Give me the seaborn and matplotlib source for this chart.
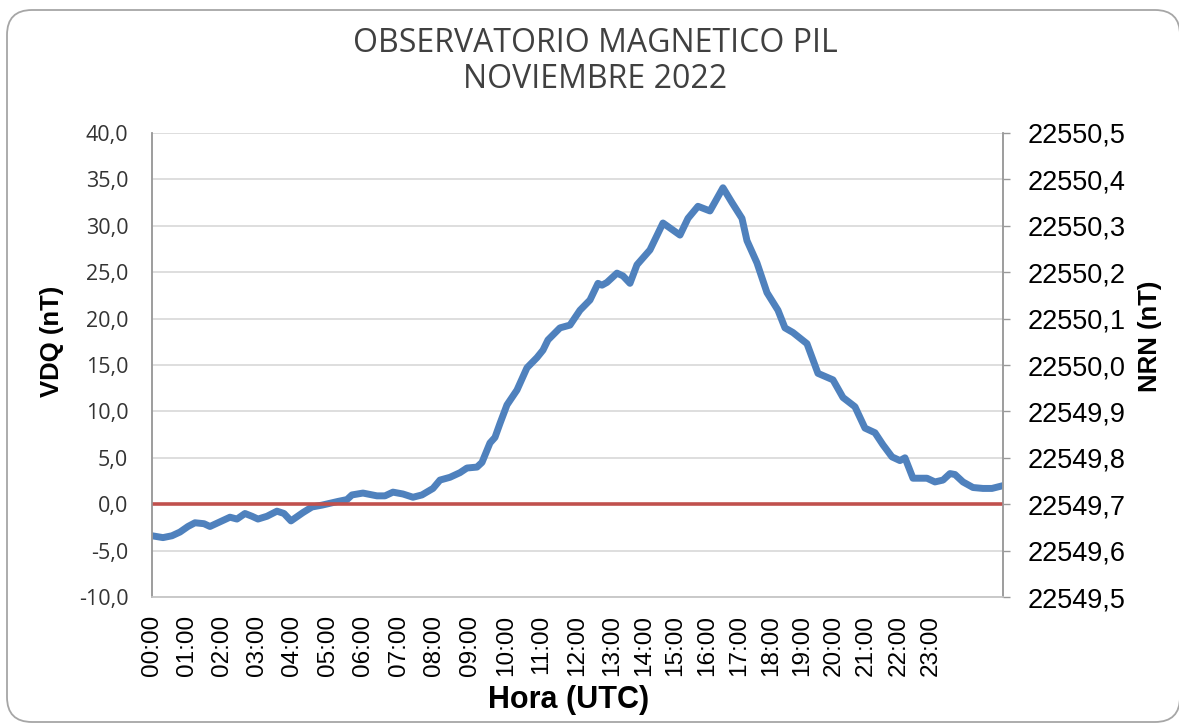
import seaborn as sns
import matplotlib.pyplot as plt
from matplotlib.patches import FancyBboxPatch
from matplotlib.ticker import FuncFormatter

# sample number along the category axis and VDQ values
muestra = [0, 11, 20, 28, 36, 43, 52, 58, 68, 78, 85, 93, 100, 106, 115, 125,
           132, 139, 151, 160, 170, 178, 186, 195, 200, 211, 225, 233, 241, 251,
           261, 270, 281, 288, 298, 308, 315, 325, 330, 338, 343, 348, 355, 365,
           375, 385, 391, 396, 408, 418, 428, 438, 446, 450, 455, 465, 471, 478,
           485, 498, 511, 528, 536, 546, 558, 571, 580, 590, 595, 605, 615, 626,
           633, 641, 655, 666, 681, 691, 703, 713, 723, 731, 740, 748, 753, 761,
           775, 783, 791, 798, 803, 811, 821, 831, 840, 851]
vdq = [-3.4, -3.6, -3.4, -3.0, -2.4, -2.0, -2.1, -2.4, -1.9, -1.4, -1.6, -1.0,
       -1.3, -1.6, -1.3, -0.75, -1.0, -1.8, -0.9, -0.3, -0.1, 0.1, 0.3, 0.5,
       1.0, 1.2, 0.9, 0.9, 1.3, 1.1, 0.75, 1.0, 1.7, 2.6, 2.9, 3.4, 3.9, 4.0,
       4.5, 6.6, 7.2, 8.7, 10.7, 12.3, 14.7, 15.8, 16.6, 17.7, 19.0, 19.3, 20.9,
       22.0, 23.8, 23.6, 23.9, 24.9, 24.6, 23.8, 25.8, 27.4, 30.3, 29.0, 30.8,
       32.1, 31.6, 34.1, 32.5, 30.8, 28.4, 26.0, 22.8, 20.9, 19.0, 18.5, 17.3,
       14.1, 13.4, 11.5, 10.5, 8.2, 7.7, 6.4, 5.1, 4.7, 5.0, 2.8, 2.8, 2.4,
       2.6, 3.3, 3.2, 2.4, 1.8, 1.7, 1.7, 2.0]

# NRN reference level (secondary axis)
nrn_muestra = [0, 851]
nrn = [22549.7, 22549.7]

# first sample of each hour
hora_muestra = [0, 35, 70, 105, 140, 176, 211, 247, 282, 318, 354, 389, 425,
                460, 492, 523, 555, 587, 619, 650, 682, 714, 747, 779]
hora_labels = [f"{h:02d}:00" for h in range(24)]

sns.set_theme(style="white")
plt.rcParams["font.family"] = ["Liberation Sans", "DejaVu Sans"]

fig = plt.figure(figsize=(11.79, 7.24), dpi=100)
ax = fig.add_axes([0.1289, 0.1754, 0.7218, 0.6409])
ax2 = ax.twinx()

coma = FuncFormatter(lambda v, _: f"{v:.1f}".replace(".", ","))

# left axis: VDQ
ax.set_ylim(-10, 40)
ax.set_yticks(range(-10, 41, 5))
ax.yaxis.set_major_formatter(coma)
ax.grid(axis="y", color="#d4d4d4", lw=1.1)
ax.set_axisbelow(True)
sns.lineplot(x=muestra, y=vdq, ax=ax, color="#4f81bd", lw=5)
ax.set_xlim(0, 851)
ax.set_xticks(hora_muestra)
ax.set_xticklabels(hora_labels, rotation=90, fontsize=17.5, color="black")
ax.tick_params(axis="x", length=0, pad=13)
ax.tick_params(axis="y", length=0, pad=17, labelsize=15.5, labelcolor="#333333")
for t in ax.get_yticklabels():
    t.set_family(["Open Sans", "DejaVu Sans"])

# right axis: NRN
sns.lineplot(x=nrn_muestra, y=nrn, ax=ax2, color="#c0504d", lw=2.6)
ax2.set_ylim(22549.5, 22550.5)
ax2.set_yticks([22549.5 + 0.1 * i for i in range(11)])
ax2.yaxis.set_major_formatter(coma)
ax2.tick_params(axis="y", length=5, width=1, color="#999999", pad=13,
                labelsize=19.5, labelcolor="black")
ax2.grid(False)

for a in (ax, ax2):
    a.spines["top"].set_visible(False)
    a.spines["left"].set_color("#9a9a9a")
    a.spines["right"].set_color("#9a9a9a")
    a.spines["bottom"].set_color("#c8c8c8")
    for s in a.spines.values():
        s.set_linewidth(1.1)

ax.set_xlabel("Hora (UTC)", fontsize=22, fontweight="bold", color="black")
ax.xaxis.set_label_coords(0.489, -0.19)
ax.set_ylabel("VDQ (nT)", fontsize=18.5, fontweight="bold", color="black")
ax.yaxis.set_label_coords(-0.103, 0.552)
ax2.set_ylabel("NRN (nT)", fontsize=18.5, fontweight="bold", color="black")
ax2.yaxis.set_label_coords(1.1586, 0.5625)

titulo = dict(ha="center", va="center", fontsize=23, color="#404040",
              family=["Open Sans", "DejaVu Sans"])
fig.text(0.505, 1 - 43 / 724, "OBSERVATORIO MAGNETICO PIL", **titulo)
fig.text(0.505, 1 - 80 / 724, "NOVIEMBRE 2022", **titulo)

# rounded chart frame
frame = FancyBboxPatch((0.07, 0.02), 11.73, 7.12, boxstyle="round,pad=0,rounding_size=0.25",
                       transform=fig.dpi_scale_trans, fill=False,
                       edgecolor="#a6a6a6", lw=1.3, clip_on=False)
fig.patches.append(frame)

plt.savefig("out.png", dpi=100)
